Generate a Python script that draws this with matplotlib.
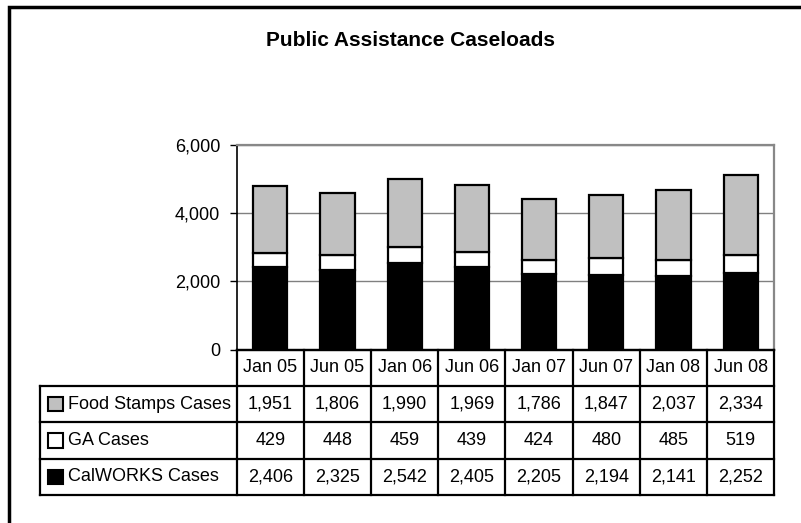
import matplotlib.pyplot as plt
from matplotlib.patches import Rectangle
from matplotlib.ticker import FuncFormatter

plt.rcParams['font.family'] = ['Liberation Sans', 'DejaVu Sans']

# caseload counts per reporting month
periods = ['Jan 05', 'Jun 05', 'Jan 06', 'Jun 06', 'Jan 07', 'Jun 07', 'Jan 08', 'Jun 08']
calworks = [2406, 2325, 2542, 2405, 2205, 2194, 2141, 2252]
ga_cases = [429, 448, 459, 439, 424, 480, 485, 519]
food_stamps = [1951, 1806, 1990, 1969, 1786, 1847, 2037, 2334]

W, H = 801, 523
fig = plt.figure(figsize=(W / 100, H / 100), dpi=100)
fs = 13


def px_rect(x0, y0, x1, y1):
    # pixel box (top-left origin) -> figure fraction rect
    return [x0 / W, 1 - y1 / H, (x1 - x0) / W, (y1 - y0) / H]


plot_l, plot_r, plot_t, plot_b = 236.7, 774.3, 144.5, 349.5
tab_l, tab_b = 40, 495
n = len(periods)
col_w = (plot_r - plot_l) / n

# stacked bars
ax = fig.add_axes(px_rect(plot_l, plot_t, plot_r, plot_b))
x = range(n)
bw = 0.51
ax.bar(x, calworks, bw, color='black', edgecolor='black', linewidth=1.6, zorder=3)
ax.bar(x, ga_cases, bw, bottom=calworks, color='white', edgecolor='black', linewidth=1.6, zorder=3)
bottoms = [c + g for c, g in zip(calworks, ga_cases)]
ax.bar(x, food_stamps, bw, bottom=bottoms, color='#c0c0c0', edgecolor='black', linewidth=1.6, zorder=3)

ax.set_xlim(-0.5, n - 0.5)
ax.set_ylim(0, 6000)
ax.set_yticks([0, 2000, 4000, 6000])
ax.yaxis.set_major_formatter(FuncFormatter(lambda v, p: f'{int(v):,}'))
ax.tick_params(axis='y', direction='out', length=5, width=1, pad=7, labelsize=fs, colors='black')
ax.set_xticks([])
ax.grid(axis='y', color='#808080', linewidth=1, zorder=0)
for side in ['top', 'right']:
    ax.spines[side].set_color('#888888')
    ax.spines[side].set_linewidth(1.6)
ax.spines['left'].set_linewidth(1.2)
ax.spines['bottom'].set_linewidth(1.6)

# data table underneath
tax = fig.add_axes(px_rect(tab_l, plot_b, plot_r, tab_b))
label_w = (plot_l - tab_l) / col_w
x0 = -0.5 - label_w
tax.set_xlim(x0, n - 0.5)
tax.set_ylim(0, 4)
tax.axis('off')

rows = [
    ('Food Stamps Cases', food_stamps, '#c0c0c0'),
    ('GA Cases', ga_cases, 'white'),
    ('CalWORKS Cases', calworks, 'black'),
]

lw = 1.6
for y in [0, 1, 2, 3]:
    tax.plot([x0, n - 0.5], [y, y], color='black', lw=lw, clip_on=False, solid_capstyle='projecting')
tax.plot([-0.5, n - 0.5], [4, 4], color='black', lw=lw, clip_on=False)
tax.plot([x0, x0], [0, 3], color='black', lw=lw, clip_on=False, solid_capstyle='projecting')
for i in range(n + 1):
    tax.plot([i - 0.5, i - 0.5], [0, 4], color='black', lw=lw, clip_on=False, solid_capstyle='projecting')

for i, p in enumerate(periods):
    tax.text(i, 3.5, p, ha='center', va='center', fontsize=fs)

row_h = (tab_b - plot_b) / 4
for r, (name, vals, color) in enumerate(rows):
    yc = 2.5 - r
    kx = x0 + (47.7 - tab_l) / col_w
    kw = 15.5 / col_w
    kh = 14.5 / row_h
    tax.add_patch(Rectangle((kx, yc - kh / 2), kw, kh, facecolor=color,
                            edgecolor='black', lw=1.5, clip_on=False))
    tax.text(x0 + (68 - tab_l) / col_w, yc, name, ha='left', va='center', fontsize=fs)
    for i, v in enumerate(vals):
        tax.text(i, yc, f'{v:,}', ha='center', va='center', fontsize=fs)

fig.text(410 / W, 1 - 46.5 / H, 'Public Assistance Caseloads', ha='center', va='baseline',
         fontsize=15, fontweight='bold')

# chart frame (left and top edges visible)
fig.add_artist(Rectangle((9 / W, -0.1), 2, 1.1 - 7 / H, transform=fig.transFigure,
                         fill=False, edgecolor='black', lw=2.5))

fig.savefig('out.png', dpi=100)
